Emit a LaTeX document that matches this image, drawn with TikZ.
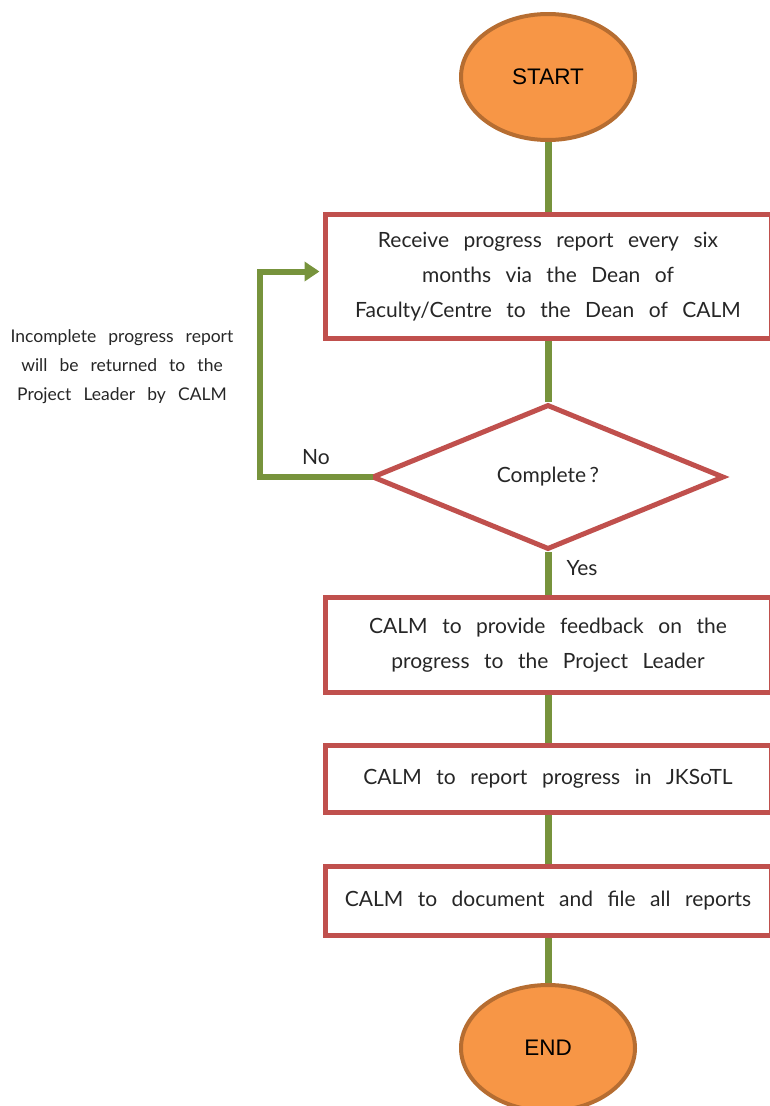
\documentclass[tikz,border=0pt]{standalone}
\usepackage{fontspec}
\setmainfont[WordSpace=2.7]{Lato}
\newfontfamily\termfont{Liberation Sans}
\usetikzlibrary{arrows.meta, positioning, shapes.geometric}
\definecolor{calmorange}{HTML}{F79646}
\definecolor{calmbrown}{HTML}{B66D31}
\definecolor{calmred}{HTML}{C0504D}
\definecolor{calmgreen}{HTML}{77933C}
\definecolor{calmtext}{HTML}{262626}
\tikzset{
  terminal/.style = {ellipse, draw=calmbrown, fill=calmorange, line width=4pt,
                     minimum width=174pt, minimum height=126pt, inner sep=0pt,
                     font=\termfont\fontsize{22.5}{26}\selectfont},
  box/.style = {draw=calmred, line width=5pt, minimum width=446pt,
                align=center, text=calmtext, inner sep=0pt,
                font=\fontsize{21}{35}\selectfont},
  decision/.style = {diamond, draw=calmred, line width=5pt, aspect=2.4,
                     minimum width=352pt, minimum height=145pt, inner sep=0pt,
                     text=calmtext, font=\fontsize{21}{24}\selectfont},
  link/.style = {line width=7pt, calmgreen},
  loop link/.style = {line width=6pt, calmgreen, line cap=rect,
                      arrows={-Triangle[length=15pt, width=19pt]}},
  label/.style = {text=calmtext, font=\fontsize{21}{24}\selectfont},
  note/.style = {align=center, text=calmtext, font=\fontsize{17.5}{29}\selectfont},
}

\begin{document}
\begin{tikzpicture}[x=1pt, y=1pt]
  \useasboundingbox (0,0) rectangle (770,-1106);

  % Terminals and process steps
  \node (start) [terminal] at (548,-77) {START};
  \node (receive) [box, minimum height=124pt, below=70pt of start]
    {Receive progress report every six\\months via the Dean of\\Faculty/Centre to the Dean of CALM};
  \node (complete) [decision, below=61pt of receive] {Complete\,?};
  \node (feedback) [box, minimum height=95pt, below=43pt of complete]
    {CALM to provide feedback on the\\progress to the Project Leader};
  \node (report) [box, minimum height=67pt, below=48pt of feedback]
    {CALM to report progress in JKSoTL};
  \node (file) [box, minimum height=69pt, below=49pt of report]
    {CALM to document and file all reports};
  \node (end) [terminal, below=45pt of file] {END};

  % Main flow
  \draw [link] (start) -- (receive);
  \draw [link] (receive) -- (complete);
  \draw [link] (complete) -- (feedback);
  \draw [link] (feedback) -- (report);
  \draw [link] (report) -- (file);
  \draw [link] (file) -- (end);

  % Return loop
  \draw [loop link] (complete.west) -- ++(-110pt,0) |- ([yshift=5pt, xshift=-3pt]receive.west);
  \node (no) [label] at (316,-457) {No};
  \node (yes) [label] at (582,-568) {Yes};
  \node (returned) [note] at (122,-367)
    {Incomplete progress report\\will be returned to the\\Project Leader by CALM};
\end{tikzpicture}
\end{document}
